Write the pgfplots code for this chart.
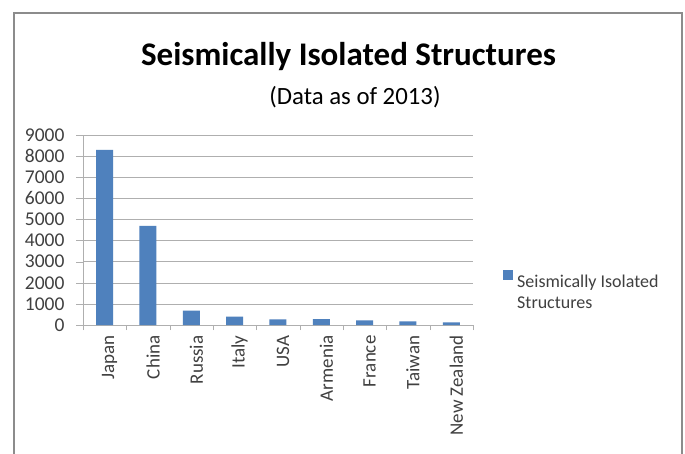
\documentclass[border=0pt]{standalone}
\usepackage{fontspec}
\setmainfont{Carlito}
\usepackage{pgfplots}
\pgfplotsset{compat=1.18}
\definecolor{barblue}{RGB}{79,129,189}
\definecolor{txt}{RGB}{64,64,64}
\definecolor{gridgray}{RGB}{175,175,175}
\definecolor{framegray}{RGB}{140,140,140}

\begin{document}
\begin{tikzpicture}[x=1pt,y=1pt]
\useasboundingbox (0,0) rectangle (685,453);
\fill[white] (0,0) rectangle (685,453);
\draw[framegray, line width=1.5pt] (14,-2) -- (14,440) -- (682,440) -- (682,-2);
\node[font=\fontsize{33}{38}\selectfont\bfseries] at (348.5,396) {Seismically Isolated Structures};
\node[font=\fontsize{24.8}{29}\selectfont] at (355,356) {(Data as of 2013)};
\begin{axis}[
    at={(83pt,128pt)}, anchor=south west,
    width=390pt, height=190pt, scale only axis,
    xmin=-0.5, xmax=8.5, ymin=0, ymax=9000,
    ytick={0,1000,...,9000},
    xtick={0,...,8},
    xticklabels={Japan,China,Russia,Italy,USA,Armenia,France,Taiwan,New Zealand},
    minor xtick={-0.5,0.5,...,8.5},
    axis x line*=bottom, axis y line*=left,
    axis line style={gridgray},
    tick align=outside,
    major x tick style={draw=none},
    minor x tick style={gridgray},
    minor tick length=5pt,
    major tick length=7pt,
    y tick style={gridgray},
    ymajorgrids, grid style={gridgray},
    xticklabel style={rotate=90, anchor=east, yshift=-5pt, font=\fontsize{19}{22}\selectfont, text=txt},
    yticklabel style={xshift=-8pt, font=\fontsize{19.5}{22}\selectfont, text=txt},
    /pgf/number format/assume math mode=true,
    /pgf/number format/1000 sep={},
    scaled y ticks=false,
    legend style={at={(axis description cs:1.077,0.205)}, anchor=west,
        draw=none, fill=none, inner sep=0pt, column sep=2pt,
        font=\fontsize{18}{21}\selectfont, text=txt},
    legend cell align=left,
]
\addplot[ybar, bar width=17pt, fill=barblue, draw=none,
    legend image code/.code={\fill[barblue] (0pt,6pt) rectangle (10pt,16pt); \path (0pt,-16pt);}]
    coordinates {
    (0,8300) (1,4700) (2,680) (3,400) (4,270) (5,280) (6,220) (7,175) (8,125)
};
\addlegendentry{\begin{tabular}{@{}l@{}}Seismically Isolated\\Structures\end{tabular}}
\end{axis}
\end{tikzpicture}
\end{document}
